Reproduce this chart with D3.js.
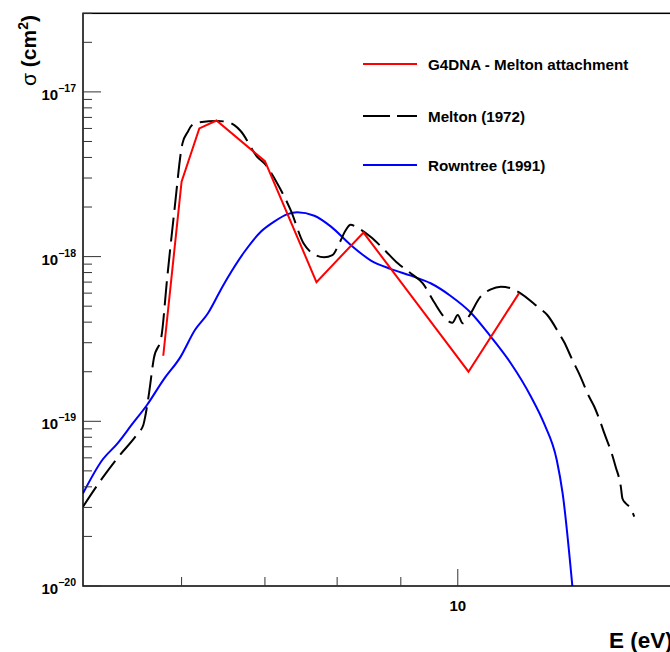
<!DOCTYPE html>
<html>
<head>
<meta charset="utf-8">
<script src="https://cdn.jsdelivr.net/npm/d3@7"></script>
<style>
  html, body { margin: 0; padding: 0; background: #fff; }
  svg { display: block; }
  text { font-family: "Liberation Sans", Arial, Helvetica, sans-serif; font-weight: bold; fill: #000; }
</style>
</head>
<body>
<svg id="chart" width="670" height="652"></svg>
<script>
// Electron attachment cross sections (cm^2) versus energy (eV)

// G4DNA - Melton attachment model
const g4dnaE     = [5.8, 6.0, 6.2, 6.4, 7.0, 7.7, 8.4, 10.2, 11.2];
const g4dnaSigma = [2.5e-19, 2.85e-18, 6.0e-18, 6.7e-18, 3.8e-18, 7.0e-19, 1.4e-18, 2.0e-19, 6.0e-19];

// Melton (1972) measurement
const meltonE = [5.00, 5.18, 5.33, 5.53, 5.59, 5.61, 5.65, 5.70, 5.78, 5.84, 5.92, 6.01, 6.07, 6.11, 6.20,
  6.41, 6.53, 6.61, 6.69, 6.90, 7.01, 7.16, 7.34, 7.52, 7.64, 7.81, 7.93, 8.03, 8.13, 8.20, 8.33, 8.51,
  8.73, 8.95, 9.17, 9.37, 9.57, 9.75, 9.84, 9.90, 10.00, 10.09, 10.18, 10.43, 10.63, 10.83, 11.03, 11.20,
  11.59, 11.80, 12.06, 12.17, 12.36, 12.51, 12.75, 12.87, 13.03, 13.11, 13.31, 13.39, 13.52, 13.56,
  13.64, 13.77, 13.86];
const meltonSigma = [3.03e-20, 4.5e-20, 6.0e-20, 8.4e-20, 9.5e-20, 1.07e-19, 1.49e-19, 2.41e-19, 3.26e-19,
  7.2e-19, 1.89e-18, 4.87e-18, 5.73e-18, 6.23e-18, 6.54e-18, 6.66e-18, 6.57e-18, 6.30e-18, 5.81e-18,
  4.04e-18, 3.60e-18, 2.79e-18, 1.92e-18, 1.20e-18, 1.05e-18, 9.9e-19, 1.02e-18, 1.20e-18, 1.45e-18,
  1.56e-18, 1.48e-18, 1.32e-18, 1.10e-18, 9.1e-19, 7.9e-19, 6.9e-19, 5.3e-19, 4.3e-19, 4.03e-19, 3.97e-19,
  4.42e-19, 3.94e-19, 4.22e-19, 5.71e-19, 6.33e-19, 6.57e-19, 6.42e-19, 6.07e-19, 4.96e-19, 4.42e-19,
  3.42e-19, 3.04e-19, 2.36e-19, 1.96e-19, 1.41e-19, 1.23e-19, 9.7e-20, 8.5e-20, 6.2e-20, 5.3e-20,
  4.0e-20, 3.4e-20, 3.18e-20, 2.96e-20, 2.64e-20];

// Rowntree (1991) measurement
const rowntreeE = [5.00, 5.18, 5.33, 5.47, 5.63, 5.80, 5.99, 6.15, 6.30, 6.45, 6.53, 6.74, 6.95, 7.12,
  7.30, 7.43, 7.67, 7.91, 8.20, 8.51, 8.84, 9.17, 9.51, 9.87, 10.24, 10.63, 11.03, 11.45, 11.73, 12.01,
  12.14, 12.36];
const rowntreeSigma = [3.65e-20, 5.8e-20, 7.35e-20, 9.5e-20, 1.26e-19, 1.78e-19, 2.47e-19, 3.58e-19,
  4.53e-19, 6.27e-19, 7.38e-19, 1.07e-18, 1.42e-18, 1.63e-18, 1.81e-18, 1.86e-18, 1.77e-18, 1.52e-18,
  1.18e-18, 9.5e-19, 8.4e-19, 7.66e-19, 6.89e-19, 5.77e-19, 4.58e-19, 3.26e-19, 2.25e-19, 1.41e-19,
  9.7e-20, 5.8e-20, 3.65e-20, 1.0e-20];

// Axis ticks
const xMajorTicks = [10];
const xMinorTicks = [6, 7, 8, 9, 20];
const yMajorExponents = [-20, -19, -18, -17];

const legendLabels = ["G4DNA - Melton attachment", "Melton (1972)", "Rowntree (1991)"];
const seriesColors = ["#ff0000", "#000000", "#0000ff"];

// ---- layout ----
const svg = d3.select("#chart");
const left = 83, bottom = 586;
const xDecade = 1245, yDecade = 164.7;
const xDomain = [5, 20], yDomain = [1e-20, 3e-17];

const x = d3.scaleLog().domain(xDomain)
  .range([left, left + xDecade * Math.log10(xDomain[1] / xDomain[0])]);
const y = d3.scaleLog().domain(yDomain)
  .range([bottom, bottom - yDecade * Math.log10(yDomain[1] / yDomain[0])]);

const [x0, x1] = x.range();
const [yb, yt] = y.range();

svg.append("rect").attr("width", 670).attr("height", 652).attr("fill", "#fff");

svg.append("defs").append("clipPath").attr("id", "plotClip")
  .append("rect").attr("x", x0).attr("y", yt).attr("width", x1 - x0).attr("height", yb - yt);

// ---- curves ----
const toPts = (es, ss) => es.map((e, i) => [e, ss[i]]);
const line = d3.line().x(d => x(d[0])).y(d => y(d[1]));
const smooth = d3.line().x(d => x(d[0])).y(d => y(d[1])).curve(d3.curveMonotoneX);

const curves = svg.append("g").attr("clip-path", "url(#plotClip)");
curves.append("path").datum(toPts(rowntreeE, rowntreeSigma))
  .attr("d", smooth).attr("fill", "none").attr("stroke", seriesColors[2]).attr("stroke-width", 2);
curves.append("path").datum(toPts(meltonE, meltonSigma))
  .attr("d", smooth).attr("fill", "none").attr("stroke", seriesColors[1]).attr("stroke-width", 2)
  .attr("stroke-dasharray", "24,8");
curves.append("path").datum(toPts(g4dnaE, g4dnaSigma))
  .attr("d", line).attr("fill", "none").attr("stroke", seriesColors[0]).attr("stroke-width", 2);

// ---- frame ----
svg.append("rect").attr("x", x0).attr("y", yt).attr("width", x1 - x0).attr("height", yb - yt)
  .attr("fill", "none").attr("stroke", "#000").attr("stroke-width", 1.5);

// ---- y ticks ----
const yTicksG = svg.append("g");
const yMinor = [];
for (let p = -20; p <= -17; p++) {
  for (let k = 2; k <= 9; k++) {
    const v = k * Math.pow(10, p);
    if (v <= yDomain[1]) yMinor.push(v);
  }
}
yTicksG.selectAll("line.minor").data(yMinor).join("line")
  .attr("x1", x0).attr("x2", x0 + 9)
  .attr("y1", d => y(d)).attr("y2", d => y(d))
  .attr("stroke", "#333").attr("stroke-width", 1);
yTicksG.selectAll("line.major").data(yMajorExponents).join("line")
  .attr("x1", x0).attr("x2", x0 + 18)
  .attr("y1", d => y(Math.pow(10, d))).attr("y2", d => y(Math.pow(10, d)))
  .attr("stroke", "#333").attr("stroke-width", 1);

const yLabels = svg.append("g").selectAll("text").data(yMajorExponents).join("text")
  .attr("x", 76).attr("y", d => y(Math.pow(10, d)) + 8)
  .attr("text-anchor", "end").style("font-size", "15px");
yLabels.append("tspan").text("10");
yLabels.append("tspan").attr("dy", -8).style("font-size", "10.5px").text(d => "\u2212" + Math.abs(d));

// ---- x ticks ----
const xTicksG = svg.append("g");
xTicksG.selectAll("line.minor").data(xMinorTicks).join("line")
  .attr("x1", d => x(d)).attr("x2", d => x(d))
  .attr("y1", yb).attr("y2", yb - 9)
  .attr("stroke", "#333").attr("stroke-width", 1);
xTicksG.selectAll("line.major").data(xMajorTicks).join("line")
  .attr("x1", d => x(d)).attr("x2", d => x(d))
  .attr("y1", yb).attr("y2", yb - 17)
  .attr("stroke", "#333").attr("stroke-width", 1);
svg.append("g").selectAll("text").data(xMajorTicks).join("text")
  .attr("x", d => x(d)).attr("y", 611).attr("text-anchor", "middle")
  .style("font-size", "15px").text(d => d);

// ---- axis titles ----
svg.append("text").attr("x", 609).attr("y", 648).style("font-size", "22.5px").text("E (eV)");

const yTitle = svg.append("text").attr("transform", "translate(36,15) rotate(-90)")
  .attr("text-anchor", "end").style("font-size", "21px");
yTitle.append("tspan").style("font-weight", "normal").text("\u03c3");
yTitle.append("tspan").text(" (cm");
yTitle.append("tspan").attr("dy", -8).style("font-size", "14px").text("2");
yTitle.append("tspan").attr("dy", 8).text(")");

// ---- legend ----
const legendY = [64, 116, 165];
const legend = svg.append("g").selectAll("g").data(legendLabels).join("g")
  .attr("transform", (d, i) => `translate(0,${legendY[i]})`);
legend.append("line").attr("x1", 363).attr("x2", 417).attr("y1", 0).attr("y2", 0)
  .attr("stroke", (d, i) => seriesColors[i]).attr("stroke-width", 2)
  .attr("stroke-dasharray", (d, i) => i === 1 ? "27,7" : null);
legend.append("text").attr("x", 428).attr("y", 5.5).style("font-size", "15.2px").text(d => d);
</script>
</body>
</html>
